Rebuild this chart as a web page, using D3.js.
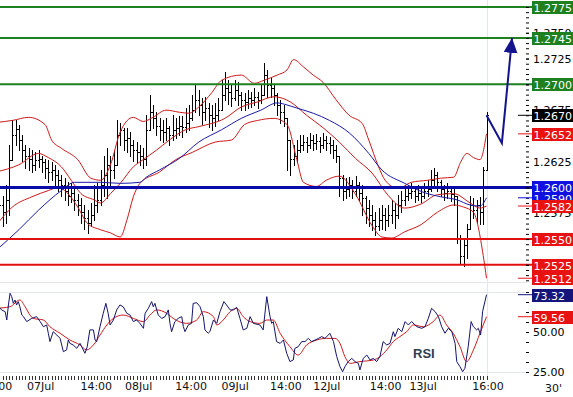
<!DOCTYPE html>
<html>
<head>
<meta charset="utf-8">
<script src="https://cdn.jsdelivr.net/npm/d3@7"></script>
<style>
  body { margin: 0; background: #fff; }
  svg text { font-family: "DejaVu Sans", Verdana, sans-serif; }
</style>
</head>
<body>
<svg id="chart" width="573" height="397"></svg>
<script>
// prices are kept in pips (price x 10 000)
const PIP = 10000;

const closes = [12592,12583,12576,12588,12627,12651,12657,12646,12636,12631,
  12628,12622,12627,12628,12625,12619,12615,12617,12612,12607,
  12602,12597,12592,12595,12588,12583,12576,12570,12566,12573,
  12583,12588,12602,12612,12622,12617,12622,12651,12656,12646,
  12648,12641,12636,12634,12631,12628,12656,12673,12667,12660,
  12656,12654,12658,12651,12656,12658,12660,12659,12663,12667,
  12675,12685,12680,12673,12677,12670,12667,12670,12675,12690,
  12696,12693,12687,12695,12690,12685,12683,12687,12685,12688,
  12685,12690,12709,12699,12696,12690,12680,12673,12667,12646,
  12628,12631,12636,12641,12644,12641,12646,12643,12645,12641,
  12646,12643,12641,12636,12631,12609,12597,12599,12602,12597,
  12602,12595,12590,12580,12573,12568,12563,12568,12573,12568,
  12573,12578,12573,12583,12588,12592,12595,12597,12592,12595,
  12592,12597,12599,12607,12612,12605,12599,12595,12597,12594,
  12592,12551,12534,12544,12560,12583,12578,12583,12576,12617,
  12670];
const highs = [12602,12597,12592,12602,12641,12665,12665,12661,12651,12641,
  12638,12636,12634,12636,12631,12628,12627,12625,12622,12617,
  12612,12609,12605,12604,12599,12594,12590,12583,12578,12585,
  12602,12604,12617,12631,12638,12631,12636,12665,12663,12658,
  12658,12654,12646,12644,12641,12638,12670,12690,12680,12673,
  12667,12665,12667,12660,12670,12667,12669,12669,12677,12680,
  12690,12699,12695,12687,12688,12682,12680,12682,12687,12704,
  12712,12704,12699,12704,12702,12693,12692,12695,12693,12696,
  12693,12699,12721,12714,12707,12699,12692,12685,12680,12667,
  12646,12641,12646,12651,12651,12649,12653,12651,12652,12649,
  12653,12650,12649,12646,12641,12631,12612,12609,12610,12607,
  12611,12605,12602,12592,12588,12583,12576,12580,12583,12580,
  12583,12588,12585,12593,12597,12602,12602,12604,12600,12602,
  12600,12604,12607,12617,12619,12615,12607,12602,12604,12601,
  12599,12592,12554,12549,12565,12592,12590,12588,12591,12620,
  12673];
const lows = [12573,12568,12563,12566,12573,12627,12641,12636,12626,12619,
  12617,12615,12617,12620,12615,12609,12605,12607,12602,12597,
  12592,12588,12583,12586,12578,12573,12566,12560,12556,12563,
  12568,12576,12583,12592,12590,12602,12609,12622,12641,12636,
  12634,12631,12626,12625,12622,12619,12622,12656,12658,12651,
  12646,12644,12646,12641,12646,12648,12651,12649,12654,12656,
  12665,12673,12670,12662,12665,12659,12656,12660,12665,12675,
  12685,12681,12679,12685,12680,12675,12675,12677,12678,12680,
  12677,12682,12690,12688,12688,12680,12670,12663,12660,12617,
  12612,12622,12625,12634,12636,12634,12638,12636,12637,12634,
  12638,12636,12633,12629,12625,12592,12588,12590,12592,12590,
  12592,12588,12573,12566,12563,12559,12554,12559,12560,12559,
  12563,12566,12561,12570,12576,12583,12588,12590,12586,12588,
  12586,12590,12592,12597,12602,12597,12592,12588,12590,12587,
  12583,12546,12527,12524,12532,12560,12570,12566,12565,12565,
  12617];

// bollinger bands and moving average, [bar, pips]
const upperBand = [[0,12663],[5,12665],[10,12668],[15,12661],[17,12646],[20,12638],[25,12627],
  [29,12609],[32,12607],[35,12622],[38,12654],[42,12668],[45,12664],[48,12668],[52,12675],
  [56,12673],[59,12672],[62,12678],[66,12692],[69,12704],[75,12709],[79,12701],[82,12704],
  [86,12709],[89,12714],[91,12724],[94,12717],[97,12709],[100,12702],[104,12685],[108,12670],
  [112,12662],[114,12646],[117,12620],[119,12607],[123,12599],[127,12605],[132,12607],
  [136,12609],[140,12610],[142,12624],[144,12633],[146,12629],[148,12627],[150,12652]];
const midBand = [[0,12615],[7,12622],[13,12633],[16,12629],[20,12620],[23,12607],[26,12594],
  [30,12588],[32,12585],[35,12594],[38,12604],[42,12620],[45,12627],[49,12636],[53,12646],
  [58,12656],[62,12659],[70,12667],[75,12678],[80,12683],[85,12688],[90,12683],[95,12670],
  [100,12658],[105,12644],[110,12628],[115,12614],[120,12592],[125,12580],[130,12584],
  [135,12593],[140,12594],[145,12585],[148,12580],[150,12582]];
const lowerBand = [[0,12563],[5,12581],[11,12591],[16,12597],[19,12600],[22,12594],[25,12581],
  [28,12565],[32,12559],[35,12556],[38,12552],[40,12568],[42,12591],[44,12604],[50,12615],
  [55,12627],[60,12634],[67,12644],[72,12646],[76,12661],[80,12665],[85,12667],[89,12661],
  [92,12627],[94,12605],[98,12601],[101,12607],[105,12611],[110,12593],[115,12563],
  [118,12552],[121,12551],[125,12557],[130,12564],[135,12576],[140,12583],[143,12581],
  [146,12576],[149,12534],[150,12512]];
const maLine = [[0,12539],[7,12559],[13,12578],[20,12597],[24,12605],[32,12605],[38,12604],
  [44,12605],[46,12610],[50,12617],[56,12628],[62,12644],[69,12656],[75,12667],[81,12675],
  [86,12682],[89,12680],[92,12677],[97,12672],[102,12665],[108,12653],[114,12633],
  [118,12617],[125,12604],[131,12595],[136,12591],[141,12588],[145,12583],[148,12582],[150,12590]];

// RSI and its signal, [bar, value]
const rsiLine = [[0,67.9],[1.7,63.8],[2.8,62.7],[3.3,57.5],[3.8,66.9],[4.3,74.2],[4.8,72.1],[5.3,67.9],
  [5.8,70],[6.3,66.9],[6.8,69],[7.3,65.8],[7.9,60.6],[8.4,59.6],[9.4,56.5],[10.9,58.5],[12.4,59.6],
  [13.5,56.5],[14.5,53.3],[15.5,54.4],[16,49.2],[16.5,44],[17.5,50.2],[18.6,48.1],[19.6,46],
  [20.6,37.7],[21.6,38.8],[22.1,45],[22.6,42.9],[23.6,41.9],[24.7,39.8],[25.7,42.9],[26.2,40.8],
  [27.2,36.7],[27.9,40.8],[28.7,51.3],[29.8,51.3],[30.3,45],[30.8,44],[31.8,53.3],[32.8,61.7],
  [33.6,67.9],[34.3,61.7],[34.9,54.4],[35.9,57.5],[36.9,63.8],[37.9,66.9],[38.9,65.8],[40,61.7],
  [41,60.6],[42,56.5],[43,57.5],[44,55.4],[45.1,52.3],[45.6,61.7],[46.6,64.8],[47.6,69],[48.1,65.8],
  [48.6,67.9],[49.6,60.6],[50.7,58.5],[51.7,59.6],[52.7,63.8],[53.2,55.4],[53.7,50.2],[54.7,56.5],
  [55.7,58.5],[56.8,59.6],[57.3,53.3],[57.8,50.2],[58.8,54.4],[59.8,55.4],[60.3,67.9],[61.4,68.3],
  [62.4,65.8],[63.4,59.6],[63.9,51.3],[64.9,49.2],[65.4,50.2],[66.5,57.5],[67.5,55.4],[68.5,62.7],
  [69.7,69],[70.5,66.9],[71.6,63.8],[72.6,63.8],[73.6,65.4],[74.6,58.5],[75.6,51.3],[76.7,52.3],
  [77.7,59.6],[78.7,55.4],[80.7,54.4],[81.7,51.3],[82.8,72.1],[83.8,59.6],[84.3,55.4],[84.8,56.5],
  [85.8,44],[86.9,42.9],[87.9,45],[88.9,36.7],[89.9,31.5],[90.9,32.5],[91.4,39.8],[92.4,40.8],
  [93.5,44],[94.5,44],[95.5,46],[96.5,44],[97.6,45],[98.6,46],[99.6,47.1],[100.6,46],[101.6,48.1],
  [102.1,49.2],[103.2,44],[104.2,34.6],[105.2,28.3],[106,25.2],[106.7,28.3],[107.7,31.5],
  [108.8,33.5],[109.8,31.5],[110.8,30.4],[111.3,26.3],[112.3,33.5],[113.4,35.6],[114.4,32.5],
  [115.4,33.5],[116.4,31.5],[117.4,34.6],[118.4,44],[119.5,41.9],[120.5,42.9],[121.5,50.2],
  [122,47.1],[123,52.3],[124.1,50.2],[125.1,56.5],[126.1,54.4],[127.1,56.5],[128.7,53.3],
  [130.2,52.3],[131.2,53.3],[132.2,58.5],[133.2,64.8],[134.3,62.7],[135.3,59.6],[136.3,53.3],
  [137.3,49.2],[138.3,52.3],[139.4,50.2],[140.4,42.9],[140.9,31.5],[141.9,28.3],[142.7,25.2],
  [143.4,27.3],[144.4,40.8],[145.3,56.5],[146,53.3],[147,51.3],[147.5,52.3],[148.2,48.1],
  [148.8,62.7],[150,73.32]];
const rsiSignal = [[0,64.8],[4.3,65.8],[7.3,70],[8.9,65.8],[10.4,60.6],[11.4,58.5],[14.5,57.5],
  [16.5,53.3],[19.6,49.2],[22.6,45],[25.7,41.9],[27.7,38.8],[29.8,41.9],[31.8,48.1],[33.9,54.4],
  [35.9,58.5],[38.9,60.6],[42,58.5],[45.1,56.5],[47.1,60.6],[49.1,63.8],[52.2,61.7],[54.2,58.5],
  [58.3,55.4],[61.4,57.5],[63.4,62.7],[66.5,59.6],[67.5,54.4],[69.5,57.5],[71.6,62.7],[73.6,64.8],
  [75.6,59.6],[77.7,56.5],[80.7,55.4],[82.8,57.5],[84.8,57.5],[86.9,49.2],[89.9,40.8],[92.4,35.6],
  [95,41.9],[98.1,45],[101.1,46],[103.7,46],[105.2,42.9],[106.7,34.6],[108.3,30.4],[111.3,31.5],
  [115.4,32.5],[117.4,34.6],[119.5,38.8],[121.5,44],[123.5,47.1],[125.6,50.2],[127.6,54.4],
  [130.7,53.3],[133.7,56.5],[135.8,60.6],[137.8,54.4],[139.8,49.2],[141.9,40.8],[143.9,31.5],
  [146,38.8],[148,49.2],[150,59.56]];

const timeTicks = [0, 13.5, 30.5, 43.5, 59.5, 73, 88.5, 101, 119, 130.5, 150.3];
const timeLabels = ["14:00","07Jul","14:00","08Jul","14:00","09Jul","14:00","12Jul","14:00","13Jul","16:00"];

const resistances = [12775, 12745, 12700];
const pivots = [12600];
const supports = [12550, 12525];
const forecast = [[150,12670],[154.7,12643],[157.8,12745]];

const W = 573, H = 397;
const plotRight = 532;

const x = d3.scaleLinear().domain([0, 150]).range([-4, 486.5]);
const y = d3.scaleLinear().domain([12500, 12775]).range([290.6, 7]);
const yr = d3.scaleLinear().domain([25, 75]).range([372, 292]);

const svg = d3.select("#chart");
const defs = svg.append("defs");
defs.append("clipPath").attr("id", "clipMain")
  .append("rect").attr("x", 0).attr("y", 0).attr("width", plotRight).attr("height", 283);
defs.append("clipPath").attr("id", "clipRsi")
  .append("rect").attr("x", 0).attr("y", 283).attr("width", plotRight).attr("height", 93);
defs.append("clipPath").attr("id", "clipAxis")
  .append("rect").attr("x", 0).attr("y", 0).attr("width", W).attr("height", 285);
defs.append("marker").attr("id", "arrowHead")
  .attr("markerUnits", "userSpaceOnUse")
  .attr("markerWidth", 16).attr("markerHeight", 16)
  .attr("refX", 15).attr("refY", 7)
  .attr("orient", "auto")
  .append("path").attr("d", "M0,0 L15,7 L0,14 Z").attr("fill", "#14148c");

const grid = "#e1e7ed";

// light grid
svg.append("line").attr("x1", 487.5).attr("x2", 487.5).attr("y1", 0).attr("y2", 376)
  .attr("stroke", grid);
svg.append("line").attr("x1", 0).attr("x2", 527).attr("y1", 282.5).attr("y2", 282.5)
  .attr("stroke", grid);
[75, 25].forEach(v => {
  svg.append("line").attr("x1", 0).attr("x2", 527)
    .attr("y1", Math.round(yr(v)) + 0.5).attr("y2", Math.round(yr(v)) + 0.5)
    .attr("stroke", grid);
});

// ---------- price panel ----------
const main = svg.append("g").attr("clip-path", "url(#clipMain)");

const bars = main.append("g").attr("stroke", "#000").attr("stroke-width", 1)
  .attr("shape-rendering", "crispEdges");
closes.forEach(function(c, i) {
  let bx = Math.round(x(i)) + 0.5;
  let open = i > 0 ? closes[i - 1] : c;
  open = Math.max(lows[i], Math.min(highs[i], open));
  bars.append("line").attr("x1", bx).attr("x2", bx)
    .attr("y1", Math.round(y(highs[i]))).attr("y2", Math.round(y(lows[i])) + 1);
  bars.append("line").attr("x1", bx - 1.5).attr("x2", bx)
    .attr("y1", Math.round(y(open)) + 0.5).attr("y2", Math.round(y(open)) + 0.5);
  bars.append("line").attr("x1", bx).attr("x2", bx + 1.5)
    .attr("y1", Math.round(y(c)) + 0.5).attr("y2", Math.round(y(c)) + 0.5);
});

const priceLine = d3.line()
  .x(d => x(d[0]))
  .y(d => y(d[1]))
  .curve(d3.curveMonotoneX);

[upperBand, midBand, lowerBand].forEach(band => {
  main.append("path").datum(band).attr("d", priceLine)
    .attr("fill", "none").attr("stroke", "#cc1a1a").attr("stroke-width", 1);
});
main.append("path").datum(maLine).attr("d", priceLine)
  .attr("fill", "none").attr("stroke", "#1a1aa8").attr("stroke-width", 1);

function levelLine(v, color, w) {
  svg.append("line").attr("x1", 0).attr("x2", plotRight)
    .attr("y1", y(v)).attr("y2", y(v))
    .attr("stroke", color).attr("stroke-width", w);
}
resistances.forEach(v => levelLine(v, "#1e801e", 2));
pivots.forEach(v => levelLine(v, "#0a0aa8", 3));
supports.forEach(v => levelLine(v, "#e01010", 2));

// forecast arrow
svg.append("path").datum(forecast)
  .attr("d", d3.line().x(d => x(d[0])).y(d => y(d[1])))
  .attr("fill", "none").attr("stroke", "#14148c").attr("stroke-width", 2)
  .attr("marker-end", "url(#arrowHead)");

// ---------- RSI panel ----------
const rsiG = svg.append("g").attr("clip-path", "url(#clipRsi)");
rsiG.append("path").datum(rsiSignal)
  .attr("d", d3.line().x(d => x(d[0])).y(d => yr(d[1])).curve(d3.curveMonotoneX))
  .attr("fill", "none").attr("stroke", "#cc1a1a").attr("stroke-width", 1);
rsiG.append("path").datum(rsiLine)
  .attr("d", d3.line().x(d => x(d[0])).y(d => yr(d[1])))
  .attr("fill", "none").attr("stroke", "#14146e").attr("stroke-width", 1);

svg.append("text").attr("x", 413).attr("y", 358)
  .attr("font-size", 13).attr("font-weight", "bold").attr("fill", "#2e3e4e")
  .style("font-family", "'Liberation Sans', Arial, sans-serif")
  .text("RSI");

// ---------- right axes ----------
const axisMain = svg.append("g").attr("clip-path", "url(#clipAxis)");
axisMain.append("g")
  .attr("transform", "translate(526,0)")
  .call(d3.axisRight(y).tickValues(d3.range(12500, 12776, 5)).tickSize(3).tickFormat(""))
  .call(g => g.select(".domain").remove());
axisMain.append("g")
  .attr("transform", "translate(526,0)")
  .call(d3.axisRight(y).tickValues(d3.range(12500, 12776, 25)).tickSize(3).tickPadding(4)
    .tickFormat(v => (v / PIP).toFixed(4)))
  .call(g => g.select(".domain").remove())
  .call(g => g.selectAll("text").attr("font-size", 11)
    .attr("font-family", "DejaVu Sans, Verdana, sans-serif").attr("fill", "#000"));

svg.append("g")
  .attr("transform", "translate(526,0)")
  .call(d3.axisRight(yr).tickValues(d3.range(25, 75.1, 6.25)).tickSize(3).tickFormat(""))
  .call(g => g.select(".domain").remove());
svg.append("g")
  .attr("transform", "translate(526,0)")
  .call(d3.axisRight(yr).tickValues([25, 50]).tickSize(3).tickPadding(4)
    .tickFormat(d3.format(".2f")))
  .call(g => g.select(".domain").remove())
  .call(g => g.selectAll("text").attr("font-size", 11)
    .attr("font-family", "DejaVu Sans, Verdana, sans-serif").attr("fill", "#000"));

function valueBox(py, label, color, marker) {
  if (marker) {
    svg.append("line").attr("x1", 518).attr("x2", 532)
      .attr("y1", py).attr("y2", py)
      .attr("stroke", color).attr("stroke-width", 1);
  }
  svg.append("rect").attr("x", 532).attr("y", Math.round(py) - 6)
    .attr("width", 41).attr("height", 13).attr("fill", color);
  svg.append("text").attr("x", 533.5).attr("y", Math.round(py) + 4.5)
    .attr("font-size", 11).attr("fill", "#fff").text(label);
}
const fmt = v => (v / PIP).toFixed(4);
resistances.forEach(v => valueBox(y(v), fmt(v), "#1e801e", false));
valueBox(y(closes[closes.length - 1]), fmt(closes[closes.length - 1]), "#000", true);
valueBox(y(upperBand[upperBand.length - 1][1]), fmt(upperBand[upperBand.length - 1][1]), "#e81212", true);
pivots.forEach(v => valueBox(y(v), fmt(v), "#1010e0", false));
valueBox(y(maLine[maLine.length - 1][1]), fmt(maLine[maLine.length - 1][1]), "#1010e0", true);
valueBox(y(midBand[midBand.length - 1][1]), fmt(midBand[midBand.length - 1][1]), "#e81212", true);
supports.forEach(v => valueBox(y(v), fmt(v), "#e81212", false));
valueBox(y(lowerBand[lowerBand.length - 1][1]), fmt(lowerBand[lowerBand.length - 1][1]), "#e81212", true);

valueBox(yr(rsiLine[rsiLine.length - 1][1]), rsiLine[rsiLine.length - 1][1].toFixed(2), "#14147a", true);
valueBox(yr(rsiSignal[rsiSignal.length - 1][1]), rsiSignal[rsiSignal.length - 1][1].toFixed(2), "#e81212", true);

// ---------- time axis ----------
svg.append("g")
  .attr("transform", "translate(0,376)")
  .call(d3.axisBottom(x).tickValues(d3.range(0, 151)).tickSize(4).tickFormat(""))
  .call(g => g.select(".domain").remove())
  .call(g => g.selectAll("line").attr("stroke", "#333").attr("shape-rendering", "crispEdges"));

svg.append("g")
  .attr("transform", "translate(0,380)")
  .call(d3.axisBottom(x).tickValues(timeTicks).tickSize(0).tickPadding(2)
    .tickFormat((d, i) => timeLabels[i]))
  .call(g => g.select(".domain").remove())
  .call(g => g.selectAll("text").attr("font-size", 11)
    .attr("font-family", "DejaVu Sans, Verdana, sans-serif").attr("fill", "#111"));

svg.append("text").attr("x", 545).attr("y", 392).attr("font-size", 11).attr("fill", "#111")
  .text("30'");
</script>
</body>
</html>
